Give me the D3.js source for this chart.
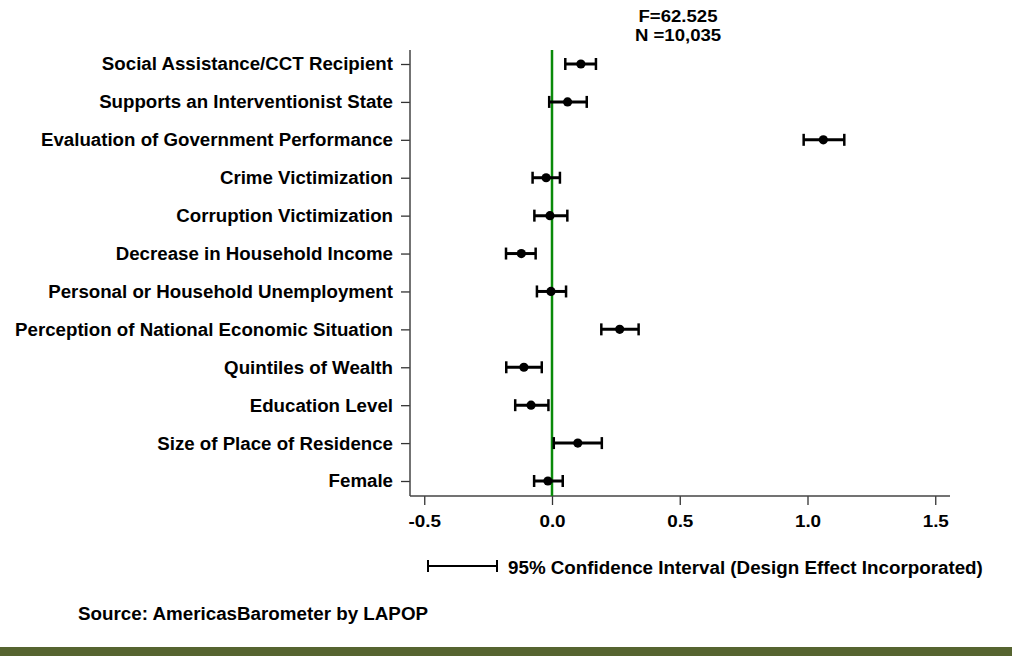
<!DOCTYPE html>
<html>
<head>
<meta charset="utf-8">
<script src="https://cdn.jsdelivr.net/npm/d3@7"></script>
<style>
  body { margin: 0; background: #fff; }
  text { font-family: "Liberation Sans", Arial, sans-serif; font-weight: bold; fill: #000; }
</style>
</head>
<body>
<div id="chart"></div>
<script>
// coefficient plot, values
var labels = [
  "Social Assistance/CCT Recipient",
  "Supports an Interventionist State",
  "Evaluation of Government Performance",
  "Crime Victimization",
  "Corruption Victimization",
  "Decrease in Household Income",
  "Personal or Household Unemployment",
  "Perception of National Economic Situation",
  "Quintiles of Wealth",
  "Education Level",
  "Size of Place of Residence",
  "Female"
];
var estimates = [0.113, 0.061, 1.062, -0.023, -0.008, -0.120, -0.004, 0.265, -0.110, -0.082, 0.101, -0.016];
var ciLow     = [0.052, -0.011, 0.985, -0.076, -0.069, -0.180, -0.059, 0.193, -0.179, -0.144, 0.007, -0.070];
var ciHigh    = [0.172, 0.136, 1.144, 0.031, 0.060, -0.064, 0.055, 0.339, -0.040, -0.014, 0.195, 0.042];
var xTicks = [-0.5, 0.0, 0.5, 1.0, 1.5];
var stats = ["F=62.525", "N =10,035"];

var w = 1012, h = 656;

var svg = d3.select("#chart").append("svg")
    .attr("width", w)
    .attr("height", h);

var x = d3.scaleLinear().domain([0, 1]).range([552, 807.5]);
var y = d3.scalePoint().domain(labels).range([64, 481]);

var plotLeft = 410, plotRight = 950, plotTop = 50, plotBottom = 496;

// y axis
var yAxis = svg.append("g")
    .attr("transform", "translate(" + plotLeft + ",0)")
    .call(d3.axisLeft(y).tickSize(9).tickPadding(8));
yAxis.select(".domain").remove();
yAxis.selectAll(".tick line").attr("stroke", "#333").attr("stroke-width", 1.3);
yAxis.selectAll(".tick text").attr("font-size", 18.7).attr("fill", "#000");
svg.append("line")
    .attr("x1", plotLeft).attr("x2", plotLeft)
    .attr("y1", plotTop).attr("y2", plotBottom)
    .attr("stroke", "#444").attr("stroke-width", 1.5);

// x axis (labels a bit wide, like the original)
var xAxis = svg.append("g")
    .attr("transform", "translate(0," + plotBottom + ")")
    .call(d3.axisBottom(x).tickValues(xTicks)
      .tickFormat(function(d) { return d.toFixed(1); })
      .tickSize(9));
xAxis.select(".domain").remove();
xAxis.selectAll(".tick line").attr("stroke", "#333").attr("stroke-width", 1.3);
xAxis.selectAll(".tick text")
    .attr("font-size", 16)
    .attr("fill", "#000")
    .attr("y", 31.5)
    .attr("dy", null)
    .attr("transform", "scale(1.18,1)");
svg.append("line")
    .attr("x1", plotLeft).attr("x2", plotRight)
    .attr("y1", plotBottom).attr("y2", plotBottom)
    .attr("stroke", "#444").attr("stroke-width", 1.5);

// zero reference line
svg.append("line")
    .attr("x1", x(0)).attr("x2", x(0))
    .attr("y1", plotTop).attr("y2", plotBottom)
    .attr("stroke", "#0a8a0a").attr("stroke-width", 2.5);

// error bars
var rows = svg.append("g").selectAll("g")
    .data(labels)
  .enter().append("g");

rows.append("line")
    .attr("x1", function(d, i) { return x(ciLow[i]); })
    .attr("x2", function(d, i) { return x(ciHigh[i]); })
    .attr("y1", function(d) { return y(d); })
    .attr("y2", function(d) { return y(d); })
    .attr("stroke", "#000").attr("stroke-width", 3);

rows.append("line")
    .attr("x1", function(d, i) { return x(ciLow[i]); })
    .attr("x2", function(d, i) { return x(ciLow[i]); })
    .attr("y1", function(d) { return y(d) - 6; })
    .attr("y2", function(d) { return y(d) + 6; })
    .attr("stroke", "#000").attr("stroke-width", 2.5);

rows.append("line")
    .attr("x1", function(d, i) { return x(ciHigh[i]); })
    .attr("x2", function(d, i) { return x(ciHigh[i]); })
    .attr("y1", function(d) { return y(d) - 6; })
    .attr("y2", function(d) { return y(d) + 6; })
    .attr("stroke", "#000").attr("stroke-width", 2.5);

rows.append("circle")
    .attr("cx", function(d, i) { return x(estimates[i]); })
    .attr("cy", function(d) { return y(d); })
    .attr("r", 4.6)
    .attr("fill", "#000");

// F and N
svg.append("g")
    .attr("transform", "translate(678,0) scale(1.14,1)")
  .selectAll("text")
    .data(stats)
  .enter().append("text")
    .text(function(d) { return d; })
    .attr("x", 0)
    .attr("y", function(d, i) { return 22 + i * 19; })
    .attr("text-anchor", "middle")
    .attr("font-size", 16.3);

// legend
var legY = 566;
svg.append("line")
    .attr("x1", 428).attr("x2", 497)
    .attr("y1", legY).attr("y2", legY)
    .attr("stroke", "#000").attr("stroke-width", 2);
svg.append("line")
    .attr("x1", 428).attr("x2", 428)
    .attr("y1", legY - 6).attr("y2", legY + 6)
    .attr("stroke", "#000").attr("stroke-width", 2);
svg.append("line")
    .attr("x1", 497).attr("x2", 497)
    .attr("y1", legY - 6).attr("y2", legY + 6)
    .attr("stroke", "#000").attr("stroke-width", 2);
svg.append("text")
    .text("95% Confidence Interval (Design Effect Incorporated)")
    .attr("x", 508)
    .attr("y", 573.5)
    .attr("font-size", 18.8);

// source
svg.append("text")
    .text("Source: AmericasBarometer by LAPOP")
    .attr("x", 78)
    .attr("y", 620)
    .attr("font-size", 18.8);

// bottom band
svg.append("rect")
    .attr("x", 0).attr("y", 647)
    .attr("width", w).attr("height", 9)
    .attr("fill", "#566430");
</script>
</body>
</html>
